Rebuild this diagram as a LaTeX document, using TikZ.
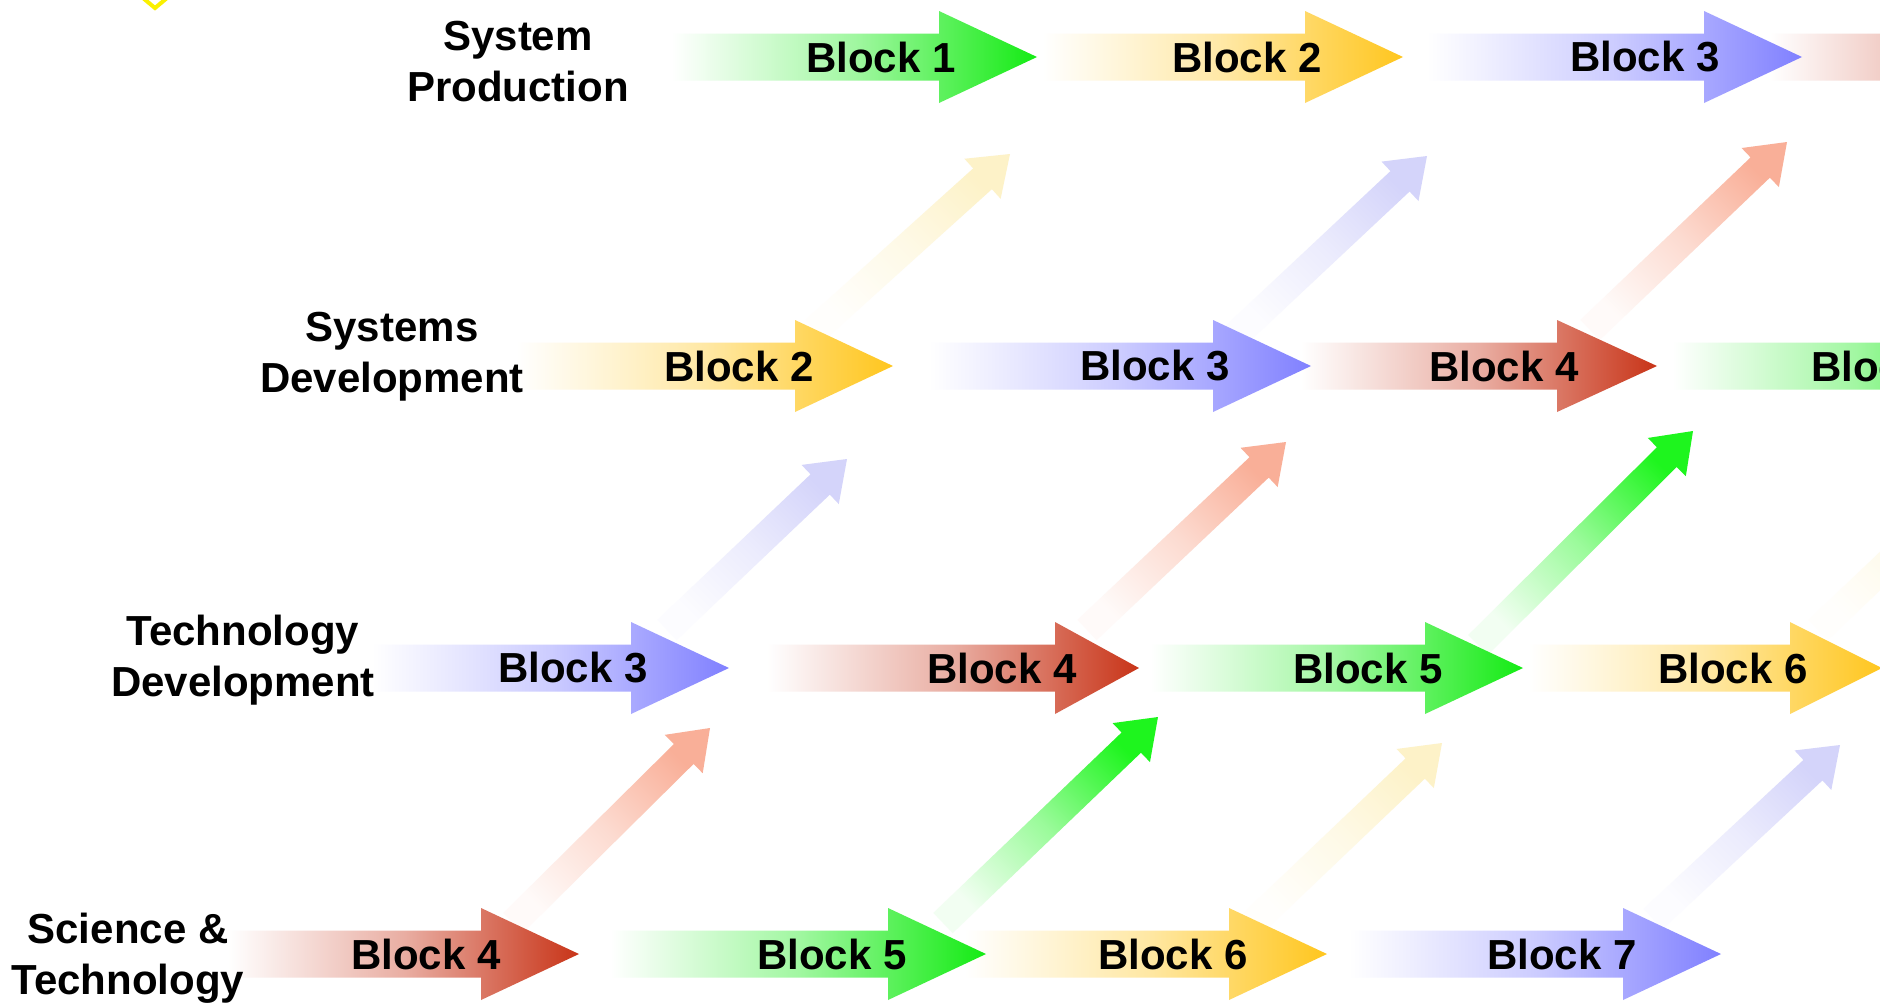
\documentclass[tikz,border=0pt]{standalone}
\usepackage{fontspec}
\setmainfont{Liberation Sans}
\usetikzlibrary{calc}
\definecolor{cgreen}{RGB}{20,235,20}
\definecolor{cyellow}{RGB}{255,198,30}
\definecolor{cblue}{RGB}{128,128,255}
\definecolor{cred}{RGB}{200,52,24}
\definecolor{dyellow}{RGB}{253,242,200}
\definecolor{dblue}{RGB}{212,212,250}
\definecolor{dred}{RGB}{249,175,152}
\definecolor{dgreen}{RGB}{30,245,30}
\definecolor{markyellow}{RGB}{250,240,0}

% horizontal block arrow: start x, head base x, tip x, y (negative), colour
\newcommand\harrow[5]{%
  \shade[left color=white, right color=#5, middle color=#5!40!white]
    ({#1},{#4+23.5}) -- ({#2},{#4+23.5}) -- ({#2},{#4+46}) -- ({#3},{#4})
    -- ({#2},{#4-46}) -- ({#2},{#4-23.5}) -- ({#1},{#4-23.5}) -- cycle;}

% diagonal faded arrow: name, tail, tip, colour
\newcommand\darrow[4]{%
  \coordinate (#1t) at #2;
  \coordinate (#1h) at #3;
  \coordinate (#1b) at ($(#1h)!37pt!(#1t)$);
  \shade[top color=#4, bottom color=#4!6!white, middle color=#4!45!white, shading angle=-45]
    ($(#1t)!14pt!90:(#1h)$) -- ($(#1b)!14pt!90:(#1h)$) -- ($(#1b)!27pt!90:(#1h)$)
    -- (#1h) -- ($(#1b)!27pt!-90:(#1h)$) -- ($(#1b)!14pt!-90:(#1h)$)
    -- ($(#1t)!14pt!-90:(#1h)$) -- cycle;}

\tikzset{
  blk/.style={font=\fontsize{42}{50}\selectfont\bfseries, inner sep=0pt, text=black},
  lbl/.style={font=\fontsize{42}{51}\selectfont\bfseries, inner sep=0pt, align=center, text=black}
}

\begin{document}
\begin{tikzpicture}[x=1pt,y=1pt]
\useasboundingbox (0,0) rectangle (1880,-1002);
\clip (0,0) rectangle (1880,-1002);
\fill[white] (0,0) rectangle (1880,-1002);

% small yellow mark at top left
\draw[markyellow, line width=4pt, line join=miter] (143,2) -- (155,-8) -- (167,2);

% diagonal arrows
\darrow{d1}{(815,-330)}{(1010,-154)}{dyellow}
\darrow{d2}{(1235,-336)}{(1427,-156)}{dblue}
\darrow{d3}{(1590,-330)}{(1787,-142)}{dred}
\darrow{d4}{(667,-630)}{(847,-459)}{dblue}
\darrow{d5}{(1087,-630)}{(1286,-442)}{dred}
\darrow{d6}{(1478,-645)}{(1693,-431)}{dgreen}
\darrow{d7}{(1818,-630)}{(2018,-440)}{dyellow}
\darrow{d8}{(513,-923)}{(710,-728)}{dred}
\darrow{d9}{(943,-923)}{(1158,-717)}{dgreen}
\darrow{d10}{(1253,-923)}{(1442,-743)}{dyellow}
\darrow{d11}{(1653,-919)}{(1840,-745)}{dblue}

% row 1
\harrow{1770}{2042}{2140}{-57}{cred}
\harrow{1427}{1704}{1802}{-57}{cblue}
\harrow{1043}{1305}{1403}{-57}{cyellow}
\harrow{672}{939}{1037}{-57}{cgreen}
% row 2
\harrow{1673}{1943}{2041}{-366}{cgreen}
\harrow{1301}{1557}{1657}{-366}{cred}
\harrow{929}{1213}{1311}{-366}{cblue}
\harrow{516}{795}{893}{-366}{cyellow}
% row 3
\harrow{1529}{1790}{1882}{-668}{cyellow}
\harrow{1151}{1425}{1523}{-668}{cgreen}
\harrow{767}{1055}{1139}{-668}{cred}
\harrow{372}{631}{729}{-668}{cblue}
% row 4
\harrow{1349}{1623}{1721}{-954}{cblue}
\harrow{965}{1229}{1327}{-954}{cyellow}
\harrow{611}{888}{986}{-954}{cgreen}
\harrow{228}{481}{579}{-954}{cred}

% block texts
\node[blk] (r1b1) at (881,-57) {Block 1};
\node[blk] (r1b2) at (1247,-57) {Block 2};
\node[blk] (r1b3) at (1645,-57) {Block 3};
\node[blk] (r2b2) at (739,-366) {Block 2};
\node[blk] (r2b3) at (1155,-366) {Block 3};
\node[blk] (r2b4) at (1504,-366) {Block 4};
\node[blk] (r2b5) at (1886,-366) {Block 5};
\node[blk] (r3b3) at (573,-668) {Block 3};
\node[blk] (r3b4) at (1002,-668) {Block 4};
\node[blk] (r3b5) at (1368,-668) {Block 5};
\node[blk] (r3b6) at (1733,-668) {Block 6};
\node[blk] (r4b4) at (426,-954) {Block 4};
\node[blk] (r4b5) at (832,-954) {Block 5};
\node[blk] (r4b6) at (1173,-954) {Block 6};
\node[blk] (r4b7) at (1562,-954) {Block 7};

% row labels
\node[lbl] (sp) at (518,-62) {System\\Production};
\node[lbl] (sd) at (392,-356.5) {Systems\\Development};
\node[lbl] (td) at (243,-660.5) {Technology\\Development};
\node[lbl] (st) at (128,-958.5) {Science \&\\Technology};
\end{tikzpicture}
\end{document}
